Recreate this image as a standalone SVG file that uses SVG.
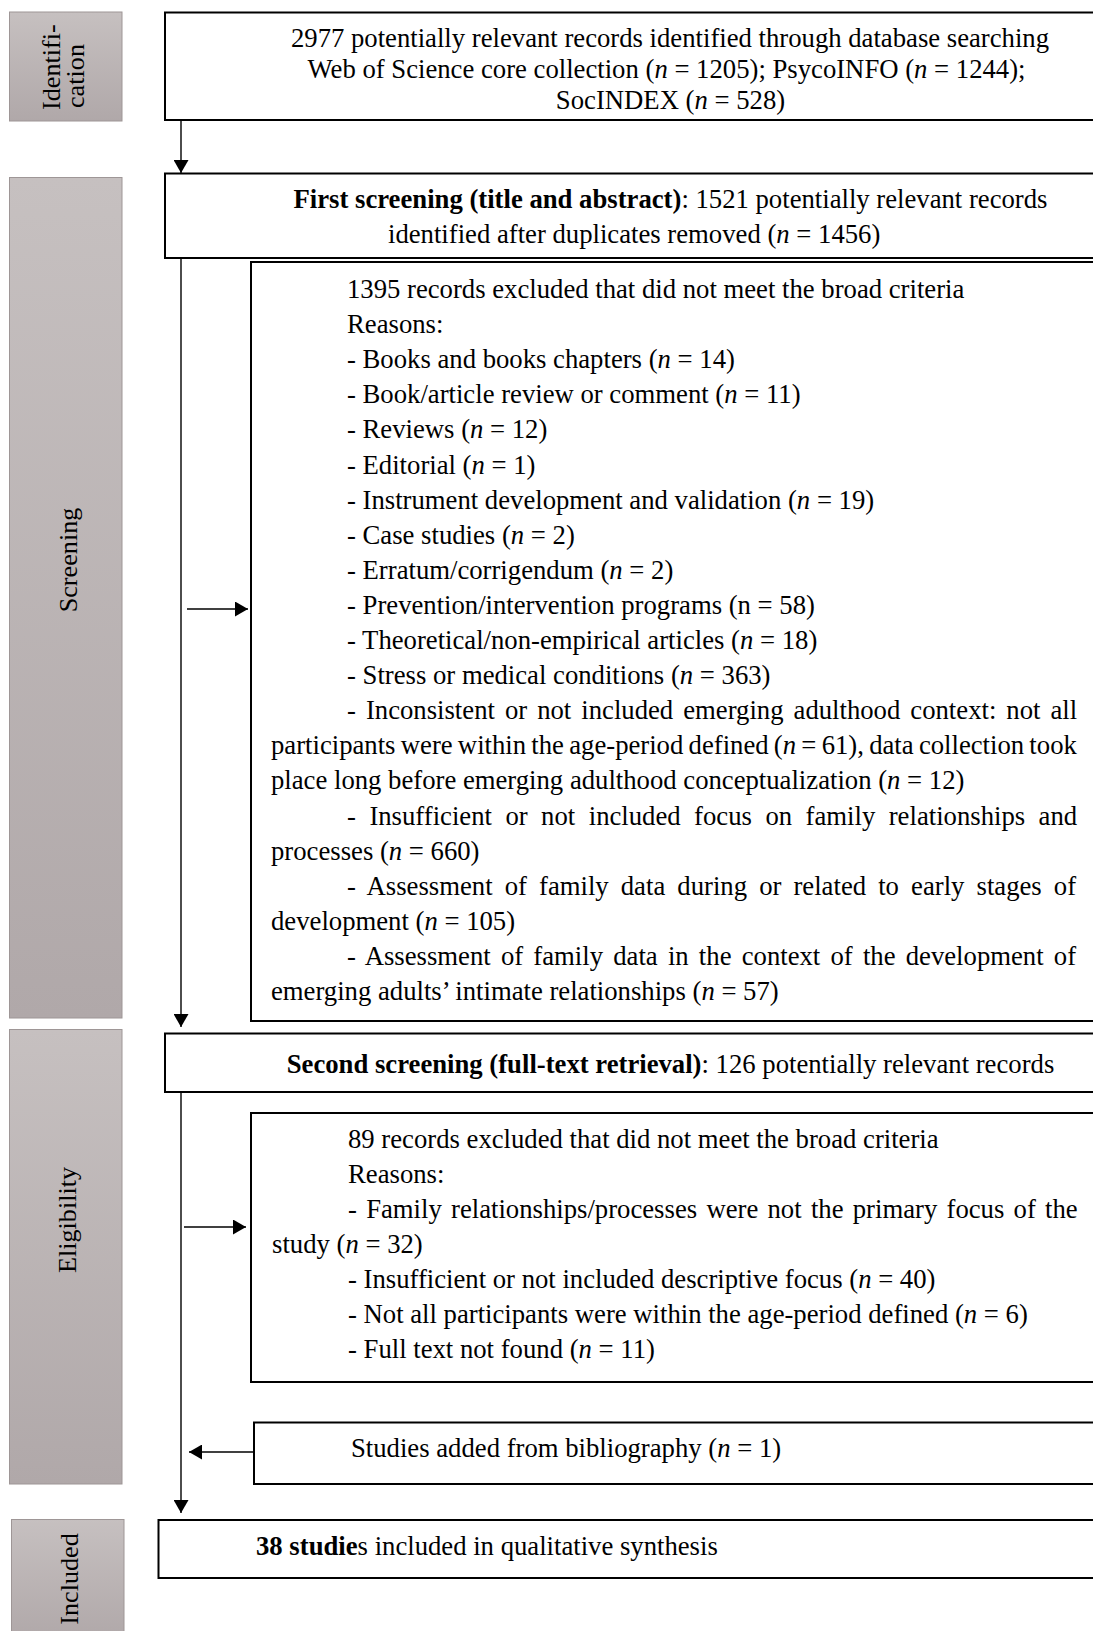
<svg xmlns="http://www.w3.org/2000/svg" width="1093" height="1631" viewBox="0 0 1093 1631">
<style>
text{font-family:"Liberation Serif","Times New Roman",serif;font-size:26.7px;fill:#000}
.lbl{font-size:26.2px}
.b{font-weight:bold}
.i{font-style:italic}
.box{fill:#fff;stroke:#000;stroke-width:2}
.side{fill:url(#g);stroke:#9e9696;stroke-width:1}
.con{stroke:#000;stroke-width:1.4;fill:none}
</style>
<defs>
<linearGradient id="g" x1="0" y1="0" x2="0" y2="1">
<stop offset="0" stop-color="#c6c0c0"/>
<stop offset="1" stop-color="#b0a8a9"/>
</linearGradient>
<marker id="ah" viewBox="0 0 13 15" refX="13" refY="7.5" markerWidth="13" markerHeight="15" orient="auto" markerUnits="userSpaceOnUse">
<path d="M0,0 L13,7.5 L0,15 z" fill="#000"/>
</marker>
</defs>

<g id="stage-labels">
<g id="lbl-identification">
<rect class="side" x="9.5" y="12" width="112.5" height="109"/>
<text class="lbl" transform="translate(60,110) rotate(-90)">Identifi-</text>
<text class="lbl" transform="translate(84,108) rotate(-90)">cation</text>
</g>
<g id="lbl-screening">
<rect class="side" x="9.5" y="177.5" width="112.5" height="840.5"/>
<text class="lbl" text-anchor="middle" transform="translate(77,560) rotate(-90)">Screening</text>
</g>
<g id="lbl-eligibility">
<rect class="side" x="9.5" y="1029.5" width="112.5" height="454.5"/>
<text class="lbl" text-anchor="middle" transform="translate(76,1220) rotate(-90)">Eligibility</text>
</g>
<g id="lbl-included">
<rect class="side" x="11.5" y="1519.5" width="112.5" height="120"/>
<text class="lbl" text-anchor="middle" transform="translate(78,1579) rotate(-90)">Included</text>
</g>
</g>

<g id="connectors">
<path class="con" d="M181,120 L181,173" marker-end="url(#ah)"/>
<path class="con" d="M181,258 L181,1027" marker-end="url(#ah)"/>
<path class="con" d="M181,1092 L181,1513" marker-end="url(#ah)"/>
<path class="con" d="M187,609 L248,609" marker-end="url(#ah)"/>
<path class="con" d="M184,1227 L246,1227" marker-end="url(#ah)"/>
<path class="con" d="M254,1452 L189,1452" marker-end="url(#ah)"/>
</g>

<g id="n-identified">
<rect class="box" x="165" y="12.5" width="940" height="107.5"/>
<text x="670" y="47" text-anchor="middle">2977 potentially relevant records identified through database searching</text>
<text x="666.5" y="78" text-anchor="middle">Web of Science core collection (<tspan class="i">n</tspan> = 1205); PsycoINFO (<tspan class="i">n</tspan> = 1244);</text>
<text x="670.5" y="108.5" text-anchor="middle">SocINDEX (<tspan class="i">n</tspan> = 528)</text>
</g>

<g id="n-first-screening">
<rect class="box" x="165" y="173.5" width="940" height="84.5"/>
<text x="670.5" y="208" text-anchor="middle"><tspan class="b">First screening (title and abstract)</tspan>: 1521 potentially relevant records</text>
<text x="388" y="243">identified after duplicates removed (<tspan class="i">n</tspan> = 1456)</text>
</g>

<g id="n-excluded-1">
<rect class="box" x="251" y="262" width="860" height="759"/>
<text x="347" y="298">1395 records excluded that did not meet the broad criteria</text>
<text x="347" y="333.1">Reasons:</text>
<text x="347" y="368.2">- Books and books chapters (<tspan class="i">n</tspan> = 14)</text>
<text x="347" y="403.3">- Book/article review or comment (<tspan class="i">n</tspan> = 11)</text>
<text x="347" y="438.4">- Reviews (<tspan class="i">n</tspan> = 12)</text>
<text x="347" y="473.5">- Editorial (<tspan class="i">n</tspan> = 1)</text>
<text x="347" y="508.6">- Instrument development and validation (<tspan class="i">n</tspan> = 19)</text>
<text x="347" y="543.7">- Case studies (<tspan class="i">n</tspan> = 2)</text>
<text x="347" y="578.8">- Erratum/corrigendum (<tspan class="i">n</tspan> = 2)</text>
<text x="347" y="613.9">- Prevention/intervention programs (n = 58)</text>
<text x="347" y="649">- Theoretical/non-empirical articles (<tspan class="i">n</tspan> = 18)</text>
<text x="347" y="684.1">- Stress or medical conditions (<tspan class="i">n</tspan> = 363)</text>
<text x="347" y="719.2" word-spacing="3.36">- Inconsistent or not included emerging adulthood context: not all</text>
<text x="271" y="754.3" word-spacing="-1.41">participants were within the age-period defined (<tspan class="i">n</tspan> = 61), data collection took</text>
<text x="271" y="789.4">place long before emerging adulthood conceptualization (<tspan class="i">n</tspan> = 12)</text>
<text x="347" y="824.5" word-spacing="6.82">- Insufficient or not included focus on family relationships and</text>
<text x="271" y="859.6">processes (<tspan class="i">n</tspan> = 660)</text>
<text x="347" y="894.7" word-spacing="5.44">- Assessment of family data during or related to early stages of</text>
<text x="271" y="929.8">development (<tspan class="i">n</tspan> = 105)</text>
<text x="347" y="964.9" word-spacing="3.55">- Assessment of family data in the context of the development of</text>
<text x="271" y="1000">emerging adults’ intimate relationships (<tspan class="i">n</tspan> = 57)</text>
</g>

<g id="n-second-screening">
<rect class="box" x="165" y="1033.5" width="940" height="58.5"/>
<text x="670.5" y="1073" text-anchor="middle"><tspan class="b">Second screening (full-text retrieval)</tspan>: 126 potentially relevant records</text>
</g>

<g id="n-excluded-2">
<rect class="box" x="251" y="1113" width="860" height="269"/>
<text x="348" y="1148">89 records excluded that did not meet the broad criteria</text>
<text x="348" y="1183">Reasons:</text>
<text x="348" y="1218" word-spacing="2.6">- Family relationships/processes were not the primary focus of the</text>
<text x="272" y="1253">study (<tspan class="i">n</tspan> = 32)</text>
<text x="348" y="1288">- Insufficient or not included descriptive focus (<tspan class="i">n</tspan> = 40)</text>
<text x="348" y="1323">- Not all participants were within the age-period defined (<tspan class="i">n</tspan> = 6)</text>
<text x="348" y="1358">- Full text not found (<tspan class="i">n</tspan> = 11)</text>
</g>

<g id="n-bibliography">
<rect class="box" x="254" y="1422.5" width="860" height="61.5"/>
<text x="351" y="1457">Studies added from bibliography (<tspan class="i">n</tspan> = 1)</text>
</g>

<g id="n-included">
<rect class="box" x="158.5" y="1520" width="950" height="58"/>
<text x="256" y="1555"><tspan class="b">38 studie</tspan>s included in qualitative synthesis</text>
</g>
</svg>
